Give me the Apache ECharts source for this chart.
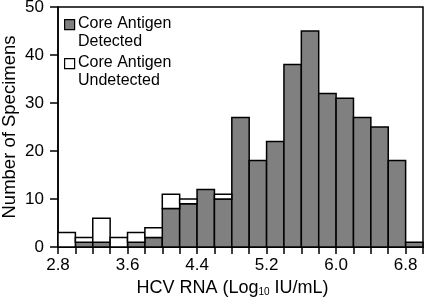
<!DOCTYPE html>
<html>
<head>
<meta charset="utf-8">
<script src="https://cdn.jsdelivr.net/npm/echarts@6/dist/echarts.min.js"></script>
<style>html,body{margin:0;padding:0;background:#fff;}#c{width:424px;height:301px;}</style>
</head>
<body>
<div id="c"></div>
<script>
// Bin left edges (log10 IU/mL), bin width 0.2
const binStarts = [2.8, 3.0, 3.2, 3.4, 3.6, 3.8, 4.0, 4.2, 4.4, 4.6, 4.8, 5.0, 5.2, 5.4, 5.6, 5.8, 6.0, 6.2, 6.4, 6.6, 6.8];
const binWidth = 0.2;
const detected =   [0, 1, 1, 0, 1, 2, 8, 9, 12, 10, 27, 18, 22, 38, 45, 32, 31, 27, 25, 18, 1];
const undetected = [3, 1, 5, 2, 2, 2, 3, 1, 0, 1, 0, 0, 0, 0, 0, 0, 0, 0, 0, 0, 0];
const xTickLabels = ['2.8', '3.6', '4.4', '5.2', '6.0', '6.8'];
const yTickLabels = ['0', '10', '20', '30', '40', '50'];
const seriesNames = ['Core Antigen\nDetected', 'Core Antigen\nUndetected'];

const FONT = '"Liberation Sans", Arial, Helvetica, sans-serif';
const chart = echarts.init(document.getElementById('c'), null, {renderer: 'canvas'});

function stackData(idx) {
  return binStarts.map((s, i) => {
    const base = idx === 0 ? 0 : detected[i];
    const val = idx === 0 ? detected[i] : undetected[i];
    return [s, s + binWidth, base, base + val];
  });
}

function makeRender(fill) {
  return function (params, api) {
    const x0 = api.value(0), x1 = api.value(1), y0 = api.value(2), y1 = api.value(3);
    if (y1 <= y0) return null;
    const p0 = api.coord([x0, y0]);
    const p1 = api.coord([x1, y1]);
    return {
      type: 'rect',
      shape: {x: p0[0], y: p1[1], width: p1[0] - p0[0], height: p0[1] - p1[1]},
      style: {fill: fill, stroke: '#000', lineWidth: 1.5}
    };
  };
}

const legendItems = [];
const legendFills = ['#808080', '#ffffff'];
seriesNames.forEach((n, i) => {
  const top = 19 + i * 39;
  legendItems.push({
    type: 'rect', left: 64, top: top, z: 100,
    shape: {width: 10, height: 10},
    style: {fill: legendFills[i], stroke: '#000', lineWidth: 1.2}
  });
  legendItems.push({
    type: 'text', left: 78, top: top - 5, z: 100,
    style: {text: n, font: '16px ' + FONT, fill: '#000', lineHeight: 18.5}
  });
});

chart.setOption({
  animation: false,
  backgroundColor: '#fff',
  grid: {left: 58, right: 1, top: 7, bottom: 54, containLabel: false, outerBoundsMode: 'none',
    show: true, borderColor: '#000', borderWidth: 1.5, backgroundColor: 'transparent'},
  xAxis: {
    type: 'value', min: 2.8, max: 7.0, interval: 0.2,
    name: 'HCV RNA (Log{sub|10} IU/mL)',
    nameLocation: 'middle', nameGap: 32, nameMoveOverlap: false,
    nameTextStyle: {fontFamily: FONT, fontSize: 18, color: '#000', padding: [0, 16, 0, 0],
      rich: {sub: {fontFamily: FONT, fontSize: 10, color: '#000', verticalAlign: 'bottom', padding: [4, 0, 0, 0]}}},
    axisLine: {show: true, lineStyle: {color: '#000', width: 1.5}},
    axisTick: {show: true, length: 7, lineStyle: {color: '#000', width: 1.5}},
    splitLine: {show: false},
    axisLabel: {
      fontFamily: FONT, fontSize: 17, color: '#000', margin: 10,
      formatter: function (v) { const s = v.toFixed(1); return xTickLabels.indexOf(s) >= 0 ? s : ''; }
    }
  },
  yAxis: {
    type: 'value', min: 0, max: 50, interval: 10,
    name: 'Number of Specimens',
    nameLocation: 'middle', nameGap: 39, nameMoveOverlap: false,
    nameTextStyle: {fontFamily: FONT, fontSize: 18.5, color: '#000'},
    axisLine: {show: true, lineStyle: {color: '#000', width: 1.5}},
    axisTick: {show: true, length: 8, lineStyle: {color: '#000', width: 1.5}},
    splitLine: {show: false},
    axisLabel: {
      fontFamily: FONT, fontSize: 17, color: '#000', margin: 14,
      formatter: function (v) { const s = String(Math.round(v)); return yTickLabels.indexOf(s) >= 0 ? s : ''; }
    }
  },
  graphic: legendItems,
  series: [
    {name: seriesNames[0], type: 'custom', renderItem: makeRender('#808080'), encode: {x: [0, 1], y: [2, 3]}, data: stackData(0)},
    {name: seriesNames[1], type: 'custom', renderItem: makeRender('#ffffff'), encode: {x: [0, 1], y: [2, 3]}, data: stackData(1)}
  ]
});
</script>
</body>
</html>
